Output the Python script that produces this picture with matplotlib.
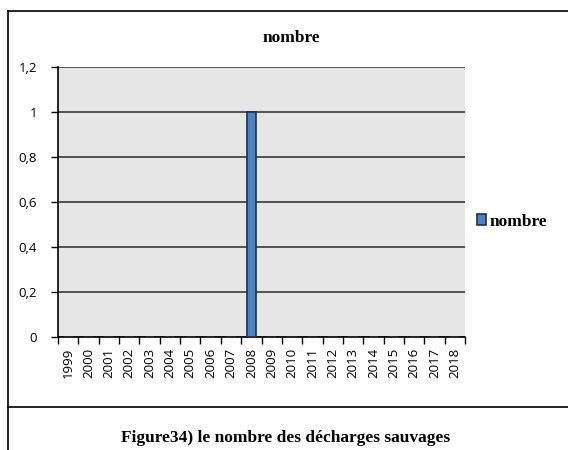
import matplotlib.pyplot as plt
from matplotlib.lines import Line2D
import numpy as np

# Donnees
annees = [str(a) for a in range(1999, 2019)]
nombre = [0, 0, 0, 0, 0, 0, 0, 0, 0, 1, 0, 0, 0, 0, 0, 0, 0, 0, 0, 0]
yticks = [0, 0.2, 0.4, 0.6, 0.8, 1, 1.2]
ylabels = ['0', '0,2', '0,4', '0,6', '0,8', '1', '1,2']

fig = plt.figure(figsize=(5.68, 4.5), dpi=100)
W, H = 568, 450
ax = fig.add_axes([58/W, 1 - 337/H, (465-58)/W, (337-67)/H])

x = np.arange(len(annees))
ax.bar(x, nombre, width=0.45, color='#4F81BD', edgecolor='#1F2F4F', linewidth=1.2,
       zorder=3, label='nombre')

ax.set_facecolor('#E6E6E6')
ax.set_xlim(-0.5, len(annees) - 0.5)
ax.set_ylim(0, 1.2)
ax.set_yticks(yticks)
ax.set_yticklabels(ylabels, fontsize=9.5, fontfamily='Open Sans')
ax.yaxis.grid(True, color='#3A3A3A', linewidth=1.2, zorder=1)
ax.set_axisbelow(True)

ax.set_xticks(x)
ax.set_xticklabels(annees, rotation=90, fontsize=9.5, fontfamily='Open Sans')
ax.set_xticks(np.arange(-0.5, len(annees)), minor=True)
ax.tick_params(axis='x', which='major', length=0, pad=8)
ax.tick_params(axis='x', which='minor', length=5, width=1, color='black', direction='out')
ax.tick_params(axis='y', length=5, width=1, direction='out', pad=10)

for s in ['top', 'right']:
    ax.spines[s].set_visible(False)
ax.spines['left'].set_linewidth(1.2)
ax.spines['bottom'].set_linewidth(1.2)

fig.text(291/W, 1 - 38/H, 'nombre', ha='center', va='center', fontsize=12.5,
         fontweight='bold', fontfamily='Liberation Serif')

fig.legend(loc='center left', bbox_to_anchor=(461/W, 1 - 222/H), frameon=False,
           handlelength=0.55, handleheight=0.6, handletextpad=0.2,
           prop={'family': 'Liberation Serif', 'weight': 'bold', 'size': 12.5})

fig.text(286/W, 1 - 438/H, 'Figure34) le nombre des décharges sauvages', ha='center',
         va='center', fontsize=12.5, fontweight='bold', fontfamily='Liberation Serif')

# cadre
fig.add_artist(Line2D([8/W, 8/W], [0, 1 - 11/H], color='black', linewidth=1.2))
fig.add_artist(Line2D([8/W, 1], [1 - 11/H, 1 - 11/H], color='black', linewidth=1.2))
fig.add_artist(Line2D([8/W, 1], [1 - 407/H, 1 - 407/H], color='black', linewidth=1.2))

plt.savefig('out.png', dpi=100)
